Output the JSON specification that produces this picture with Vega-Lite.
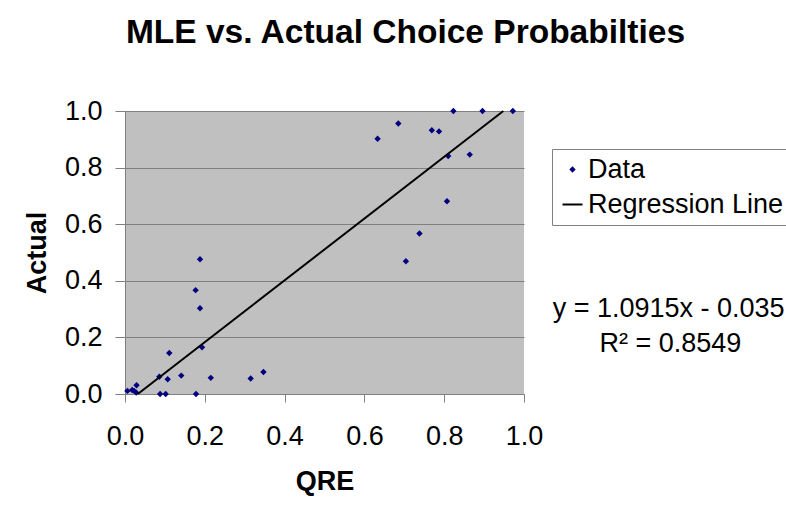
{
  "$schema": "https://vega.github.io/schema/vega-lite/v6.json",
  "width": 399,
  "height": 283,
  "autosize": {"type": "none"},
  "padding": {"left": 125, "top": 111, "right": 262, "bottom": 115},
  "background": "white",
  "title": {
    "text": "MLE vs. Actual Choice Probabilties",
    "font": "Liberation Sans",
    "fontSize": 33.5,
    "fontWeight": "bold",
    "color": "black",
    "anchor": "middle",
    "frame": "group",
    "baseline": "alphabetic",
    "offset": 21,
    "dx": 81
  },
  "config": {
    "view": {"fill": "#C0C0C0", "stroke": null},
    "font": "Liberation Sans"
  },
  "layer": [
    {
      "data": {
        "values": [
          {"qre": 0.188, "actual": 0.476, "series": "Data"},
          {"qre": 0.177, "actual": 0.367, "series": "Data"},
          {"qre": 0.188, "actual": 0.303, "series": "Data"},
          {"qre": 0.193, "actual": 0.165, "series": "Data"},
          {"qre": 0.111, "actual": 0.145, "series": "Data"},
          {"qre": 0.086, "actual": 0.061, "series": "Data"},
          {"qre": 0.107, "actual": 0.052, "series": "Data"},
          {"qre": 0.141, "actual": 0.065, "series": "Data"},
          {"qre": 0.215, "actual": 0.057, "series": "Data"},
          {"qre": 0.315, "actual": 0.055, "series": "Data"},
          {"qre": 0.347, "actual": 0.078, "series": "Data"},
          {"qre": 0.088, "actual": 0.0, "series": "Data"},
          {"qre": 0.102, "actual": 0.0, "series": "Data"},
          {"qre": 0.178, "actual": 0.0, "series": "Data"},
          {"qre": 0.006, "actual": 0.011, "series": "Data"},
          {"qre": 0.018, "actual": 0.014, "series": "Data"},
          {"qre": 0.023, "actual": 0.011, "series": "Data"},
          {"qre": 0.029, "actual": 0.031, "series": "Data"},
          {"qre": 0.028, "actual": 0.005, "series": "Data"},
          {"qre": 0.823, "actual": 1.0, "series": "Data"},
          {"qre": 0.896, "actual": 1.0, "series": "Data"},
          {"qre": 0.972, "actual": 1.0, "series": "Data"},
          {"qre": 0.685, "actual": 0.956, "series": "Data"},
          {"qre": 0.633, "actual": 0.902, "series": "Data"},
          {"qre": 0.769, "actual": 0.932, "series": "Data"},
          {"qre": 0.787, "actual": 0.928, "series": "Data"},
          {"qre": 0.81, "actual": 0.841, "series": "Data"},
          {"qre": 0.864, "actual": 0.846, "series": "Data"},
          {"qre": 0.807, "actual": 0.681, "series": "Data"},
          {"qre": 0.738, "actual": 0.567, "series": "Data"},
          {"qre": 0.704, "actual": 0.469, "series": "Data"}
        ]
      },
      "mark": {"type": "point", "filled": true, "size": 400, "opacity": 1},
      "encoding": {
        "x": {
          "field": "qre",
          "type": "quantitative",
          "scale": {"domain": [0, 1], "nice": false},
          "axis": {
            "title": "QRE",
            "titleFont": "Liberation Sans",
            "titleFontSize": 27,
            "titleFontWeight": "bold",
            "titleColor": "black",
            "titlePadding": 19,
            "labelFont": "Liberation Sans",
            "labelFontSize": 27,
            "labelColor": "black",
            "labelPadding": 21,
            "labelFlush": false,
            "labelOverlap": false,
            "values": [0, 0.2, 0.4, 0.6, 0.8, 1.0],
            "format": ".1f",
            "tickSize": 8,
            "tickColor": "#808080",
            "domainColor": "#808080",
            "grid": false
          }
        },
        "y": {
          "field": "actual",
          "type": "quantitative",
          "scale": {"domain": [0, 1], "nice": false},
          "axis": {
            "title": "Actual",
            "titleFont": "Liberation Sans",
            "titleFontSize": 27,
            "titleFontWeight": "bold",
            "titleColor": "black",
            "titlePadding": 13,
            "labelFont": "Liberation Sans",
            "labelFontSize": 27,
            "labelColor": "black",
            "labelPadding": 13,
            "labelFlush": false,
            "labelOverlap": false,
            "values": [0, 0.2, 0.4, 0.6, 0.8, 1.0],
            "format": ".1f",
            "tickSize": 10,
            "tickColor": "#808080",
            "domainColor": "#808080",
            "grid": true,
            "gridColor": "#808080",
            "gridWidth": 1
          }
        },
        "color": {
          "field": "series",
          "type": "nominal",
          "scale": {"domain": ["Data", "Regression Line"], "range": ["#000080", "#000000"]},
          "legend": {
            "title": null,
            "orient": "none",
            "legendX": 427,
            "legendY": 38,
            "strokeColor": "#808080",
            "fillColor": "white",
            "padding": 7,
            "labelFont": "Liberation Sans",
            "labelFontSize": 27,
            "labelColor": "black",
            "labelOffset": 2,
            "labelLimit": 0,
            "rowPadding": 7,
            "symbolSize": 400,
            "symbolStrokeWidth": 0
          }
        },
        "shape": {
          "field": "series",
          "type": "nominal",
          "scale": {
            "domain": ["Data", "Regression Line"],
            "range": ["M0,-0.32L0.32,0L0,0.32L-0.32,0Z", "M-1,-0.1L1,-0.1L1,0.1L-1,0.1Z"]
          },
          "legend": {
            "title": null,
            "orient": "none",
            "legendX": 427,
            "legendY": 38,
            "strokeColor": "#808080",
            "fillColor": "white",
            "padding": 7,
            "labelFont": "Liberation Sans",
            "labelFontSize": 27,
            "labelColor": "black",
            "labelOffset": 2,
            "labelLimit": 0,
            "rowPadding": 7,
            "symbolSize": 400,
            "symbolStrokeWidth": 0
          }
        }
      }
    },
    {
      "data": {"values": [{"qre": 0.0321, "actual": 0.0}, {"qre": 0.9482, "actual": 1.0}]},
      "mark": {"type": "line", "color": "black", "strokeWidth": 2},
      "encoding": {
        "x": {"field": "qre", "type": "quantitative"},
        "y": {"field": "actual", "type": "quantitative"}
      }
    },
    {
      "data": {"values": [{"label": "y = 1.0915x - 0.035"}]},
      "mark": {"type": "text", "align": "left", "baseline": "alphabetic", "font": "Liberation Sans", "fontSize": 27, "color": "black"},
      "encoding": {
        "x": {"datum": 1.072, "type": "quantitative"},
        "y": {"datum": 0.273, "type": "quantitative"},
        "text": {"field": "label"}
      }
    },
    {
      "data": {"values": [{"label": "R² = 0.8549"}]},
      "mark": {"type": "text", "align": "left", "baseline": "alphabetic", "font": "Liberation Sans", "fontSize": 27, "color": "black"},
      "encoding": {
        "x": {"datum": 1.189, "type": "quantitative"},
        "y": {"datum": 0.149, "type": "quantitative"},
        "text": {"field": "label"}
      }
    }
  ]
}
